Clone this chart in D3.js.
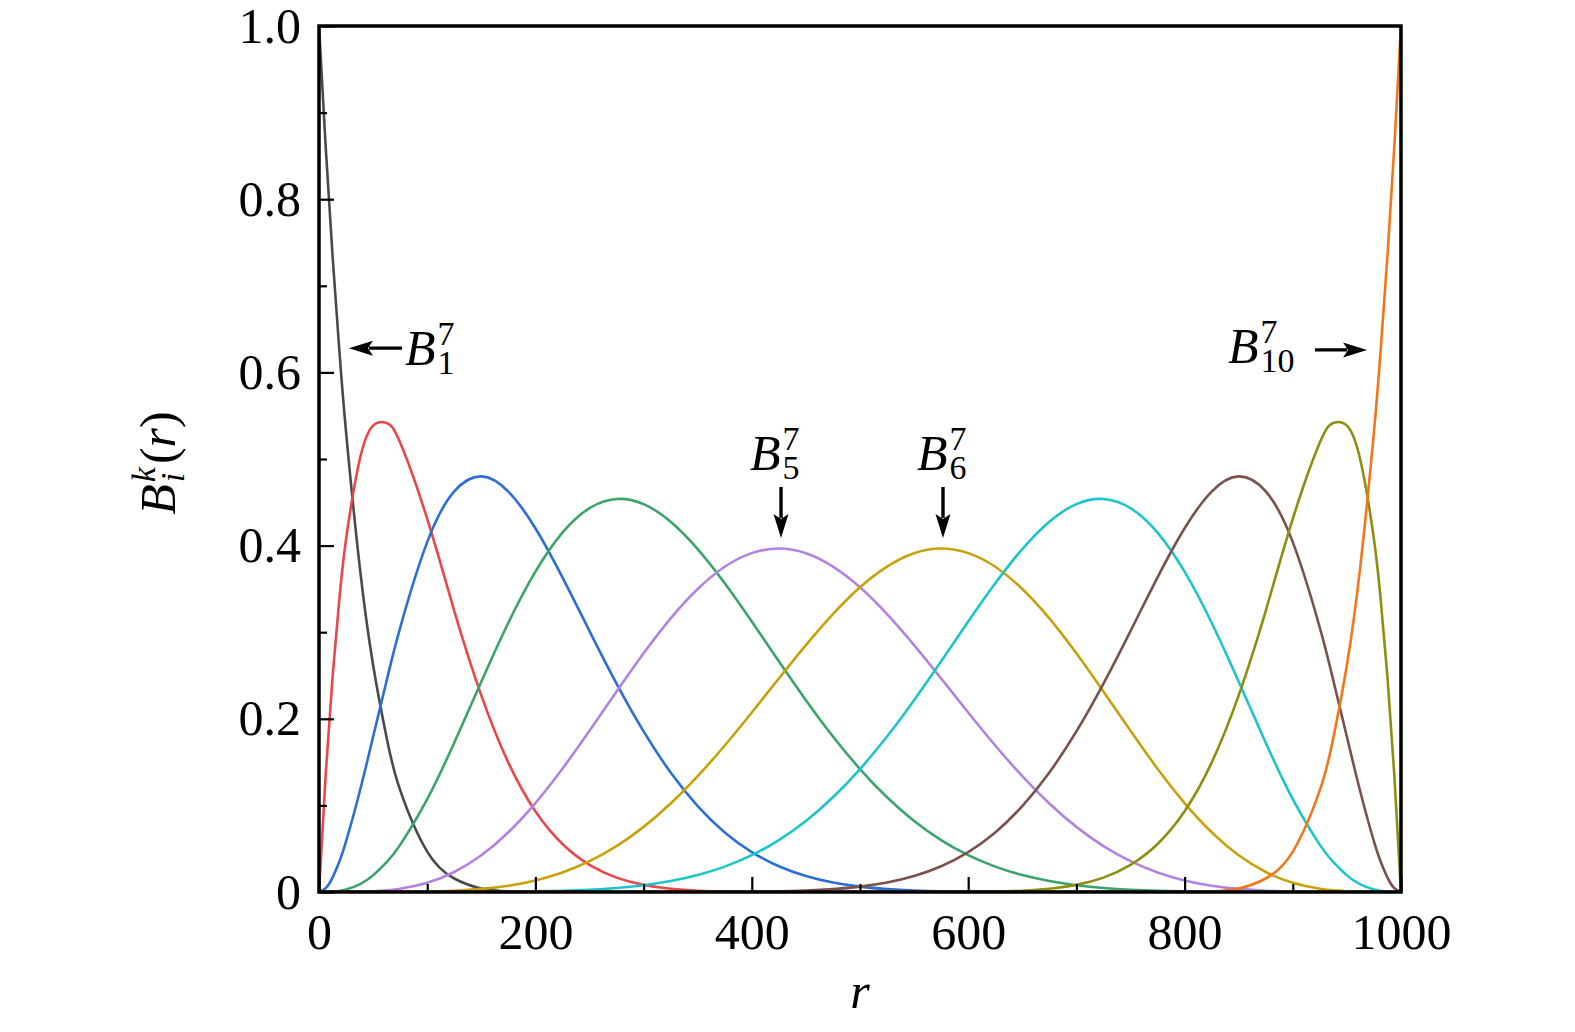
<!DOCTYPE html>
<html><head><meta charset="utf-8">
<script src="https://cdn.jsdelivr.net/npm/d3@7/dist/d3.min.js"></script>
<style>body{margin:0;background:#fff}</style>
</head><body>
<svg id="c" width="1575" height="1032"></svg>
<script>
// ---------------- data ----------------
const rGrid = [0,6.25,12.5,18.75,25,37.5,50,62.5,75,100,125,150,175,200,225,250,275,300,325,350,375,400,425,450,475,500,
  525,550,575,600,625,650,675,700,725,750,775,800,825,850,875,900,925,937.5,950,962.5,975,981.25,987.5,993.75,1000];

const B1 = [1,.8591,.7351,.6264,.5314,.3771,.2621,.1780,.1176,.0467,.0156,.0041,.0007,.0001,0,0,0,0,0,0,0,0,0,0,0,0,
  0,0,0,0,0,0,0,0,0,0,0,0,0,0,0,0,0,0,0,0,0,0,0,0,0];
const B2 = [0,.1365,.2480,.3373,.4073,.4985,.5386,.5416,.5190,.4310,.3247,.2271,.1494,.0932,.0554,.0313,.0166,.0082,.0037,.0015,.0005,.0001,0,0,0,0,
  0,0,0,0,0,0,0,0,0,0,0,0,0,0,0,0,0,0,0,0,0,0,0,0,0];
const B3 = [0,.0044,.0166,.0350,.0584,.1152,.1792,.2440,.3051,.4040,.4626,.4799,.4624,.4200,.3633,.3013,.2406,.1854,.1380,.0992,.0688,.0461,.0297,.0184,.0109,.0062,
  .0033,.0016,.0007,.0003,.0001,0,0,0,0,0,0,0,0,0,0,0,0,0,0,0,0,0,0,0,0];
const B4 = [0,.0001,.0004,.0012,.0028,.0088,.0192,.0344,.0544,.1072,.1724,.2428,.3109,.3699,.4150,.4432,.4538,.4479,.4276,.3960,.3565,.3123,.2664,.2215,.1796,.1420,
  .1094,.0821,.0600,.0425,.0293,.0195,.0126,.0078,.0046,.0026,.0014,.0007,.0003,.0001,0,0,0,0,0,0,0,0,0,0,0];
const B5 = [0,0,0,0,.0001,.0003,.0008,.0019,.0038,.0106,.0231,.0424,.0690,.1027,.1423,.1861,.2314,.2756,.3160,.3499,.3756,.3913,.3966,.3912,.3758,.3519,
  .3209,.2851,.2466,.2073,.1692,.1338,.1022,.0752,.0530,.0356,.0226,.0134,.0073,.0036,.0015,.0005,.0001,.0001,0,0,0,0,0,0,0];
const B6 = [0,0,0,0,0,0,0,.0001,.0001,.0005,.0015,.0036,.0073,.0134,.0226,.0356,.0530,.0752,.1022,.1338,.1692,.2073,.2466,.2851,.3209,.3519,
  .3758,.3912,.3966,.3913,.3756,.3499,.3160,.2756,.2314,.1861,.1423,.1027,.0690,.0424,.0231,.0106,.0038,.0019,.0008,.0003,.0001,0,0,0,0];
const B7 = [0,0,0,0,0,0,0,0,0,0,0,.0001,.0003,.0007,.0014,.0026,.0046,.0078,.0126,.0195,.0293,.0425,.0600,.0821,.1094,.1420,
  .1796,.2215,.2664,.3123,.3565,.3960,.4276,.4479,.4538,.4432,.4150,.3699,.3109,.2428,.1724,.1072,.0544,.0344,.0192,.0088,.0028,.0012,.0004,.0001,0];
const B8 = [0,0,0,0,0,0,0,0,0,0,0,0,0,0,0,0,0,0,0,0,.0001,.0003,.0007,.0016,.0033,.0062,
  .0109,.0184,.0297,.0461,.0688,.0992,.1380,.1854,.2406,.3013,.3633,.4200,.4624,.4799,.4626,.4040,.3051,.2440,.1792,.1152,.0584,.0350,.0166,.0044,0];
const B9 = [0,0,0,0,0,0,0,0,0,0,0,0,0,0,0,0,0,0,0,0,0,0,0,0,0,0,
  0,0,0,.0001,.0005,.0015,.0037,.0082,.0166,.0313,.0554,.0932,.1494,.2271,.3247,.4310,.5190,.5416,.5386,.4985,.4073,.3373,.2480,.1365,0];
const B10 = [0,0,0,0,0,0,0,0,0,0,0,0,0,0,0,0,0,0,0,0,0,0,0,0,0,0,
  0,0,0,0,0,0,0,0,0,0,0,.0001,.0007,.0041,.0156,.0467,.1176,.1780,.2621,.3771,.5314,.6264,.7351,.8591,1];

const seriesValues = [B1,B2,B3,B4,B5,B6,B7,B8,B9,B10];
const seriesNames = ["B1","B2","B3","B4","B5","B6","B7","B8","B9","B10"];

const xTicksMajor = [0,200,400,600,800,1000];
const xTickLabels = ["0","200","400","600","800","1000"];
const xTicksMinor = [100,300,500,700,900];
const yTicksMajor = [0,0.2,0.4,0.6,0.8,1.0];
const yTickLabels = ["0","0.2","0.4","0.6","0.8","1.0"];
const yTicksMinor = [0.1,0.3,0.5,0.7,0.9];

const annoSubs = ["1","10","5","6"];

// ---------------- layout / style ----------------
const colors = ["#4a4a4a","#e8474c","#2b6fd6","#3ba46a","#b283e0","#c9a10a","#1cc5cc","#7b524b","#8e8e12","#f2761a"];
const L = 319, R = 1401, T = 26, Bt = 892;
const FONT = "'Liberation Serif','Times New Roman',serif";

const svg = d3.select("#c");
const x = d3.scaleLinear().domain([0,1000]).range([L,R]);
const y = d3.scaleLinear().domain([0,1]).range([Bt,T]);

svg.append("defs").append("clipPath").attr("id","clip")
  .append("rect").attr("x",L-2).attr("y",T-4).attr("width",R-L+4).attr("height",Bt-T+5);

const line = d3.line().curve(d3.curveNatural).x(d=>x(d[0])).y(d=>y(d[1]));
const gc = svg.append("g").attr("clip-path","url(#clip)");
seriesValues.forEach((vals,i)=>{
  gc.append("path").datum(rGrid.map((r,j)=>[r,vals[j]]))
    .attr("class","s-"+seriesNames[i])
    .attr("fill","none").attr("stroke",colors[i]).attr("stroke-width",2.6)
    .attr("stroke-linejoin","round").attr("d",line);
});

// frame
svg.append("rect").attr("x",L).attr("y",T).attr("width",R-L).attr("height",Bt-T)
  .attr("fill","none").attr("stroke","#000").attr("stroke-width",3.5);

// axes (inward ticks)
function styleAxis(g){
  g.select(".domain").remove();
  g.selectAll(".tick line").attr("stroke","#000").attr("stroke-width",2.2);
  g.selectAll(".tick text").attr("font-family",FONT).attr("font-size",50).attr("fill","#000");
}
const yAx = svg.append("g").attr("transform",`translate(${L},0)`)
  .call(d3.axisLeft(y).tickValues(yTicksMajor).tickFormat((d,i)=>yTickLabels[i]).tickSizeInner(-15).tickSizeOuter(0).tickPadding(18));
styleAxis(yAx);
const yAxm = svg.append("g").attr("transform",`translate(${L},0)`)
  .call(d3.axisLeft(y).tickValues(yTicksMinor).tickFormat("").tickSizeInner(-8).tickSizeOuter(0));
styleAxis(yAxm);
const xAx = svg.append("g").attr("transform",`translate(0,${Bt})`)
  .call(d3.axisBottom(x).tickValues(xTicksMajor).tickFormat((d,i)=>xTickLabels[i]).tickSizeInner(-15).tickSizeOuter(0).tickPadding(21));
styleAxis(xAx);
const xAxm = svg.append("g").attr("transform",`translate(0,${Bt})`)
  .call(d3.axisBottom(x).tickValues(xTicksMinor).tickFormat("").tickSizeInner(-8).tickSizeOuter(0));
styleAxis(xAxm);

// axis titles
svg.append("text").attr("x",860).attr("y",1008).attr("text-anchor","middle")
  .attr("font-family",FONT).attr("font-style","italic").attr("font-size",50).text("r");

function mathB(g, sup, sub, supItalic){
  const b = g.append("text").attr("font-family",FONT).attr("font-style","italic").attr("font-size",50).text("B");
  const w = b.node().getComputedTextLength();
  const s1 = g.append("text").attr("x",w+2).attr("y",-20).attr("font-family",FONT)
    .attr("font-style",supItalic?"italic":"normal").attr("font-size",34).text(sup);
  const s2 = g.append("text").attr("x",w+2).attr("y",9).attr("font-family",FONT)
    .attr("font-style",supItalic?"italic":"normal").attr("font-size",34).text(sub);
  return w + 2 + Math.max(s1.node().getComputedTextLength(), s2.node().getComputedTextLength());
}

// y label
const yl = svg.append("g").attr("transform","translate(175,463) rotate(-90)");
const yli = yl.append("g");
let wy = mathB(yli,"k","i",true);
const pr = yli.append("text").attr("x",wy+3).attr("font-family",FONT).attr("font-size",50);
pr.append("tspan").text("(");
pr.append("tspan").attr("font-style","italic").text("r");
pr.append("tspan").text(")");
wy = wy + 3 + pr.node().getComputedTextLength();
yli.attr("transform",`translate(${-wy/2},0)`);

// annotations
const annoLayout = [
  {tx:79.5, ty:0.6085, a:[[76.7,0.628],[27.7,0.628]]},
  {tx:840.1, ty:0.611, a:[[920.5,0.626],[968.6,0.626]]},
  {tx:398.3, ty:0.4873, a:[[427,0.4677],[427,0.4088]]},
  {tx:552.7, ty:0.4873, a:[[576.7,0.4677],[576.7,0.4088]]}
];
annoLayout.forEach((an,i)=>{
  const g = svg.append("g").attr("transform",`translate(${x(an.tx)},${y(an.ty)})`);
  mathB(g,"7",annoSubs[i],false);
  const x1 = x(an.a[0][0]), y1 = y(an.a[0][1]), x2 = x(an.a[1][0]), y2 = y(an.a[1][1]);
  const dx = x2-x1, dy = y2-y1, len = Math.hypot(dx,dy), ux = dx/len, uy = dy/len;
  const hl = 24, hw = 7.5;
  svg.append("line").attr("x1",x1).attr("y1",y1).attr("x2",x2-ux*(hl-4)).attr("y2",y2-uy*(hl-4))
    .attr("stroke","#000").attr("stroke-width",3.4);
  const bx = x2-ux*hl, by = y2-uy*hl, px = -uy, py = ux;
  const ix = x2-ux*(hl-5), iy = y2-uy*(hl-5);
  svg.append("path").attr("d",`M${x2},${y2}L${bx+px*hw},${by+py*hw}L${ix},${iy}L${bx-px*hw},${by-py*hw}Z`)
    .attr("fill","#000");
});
</script>
</body></html>
